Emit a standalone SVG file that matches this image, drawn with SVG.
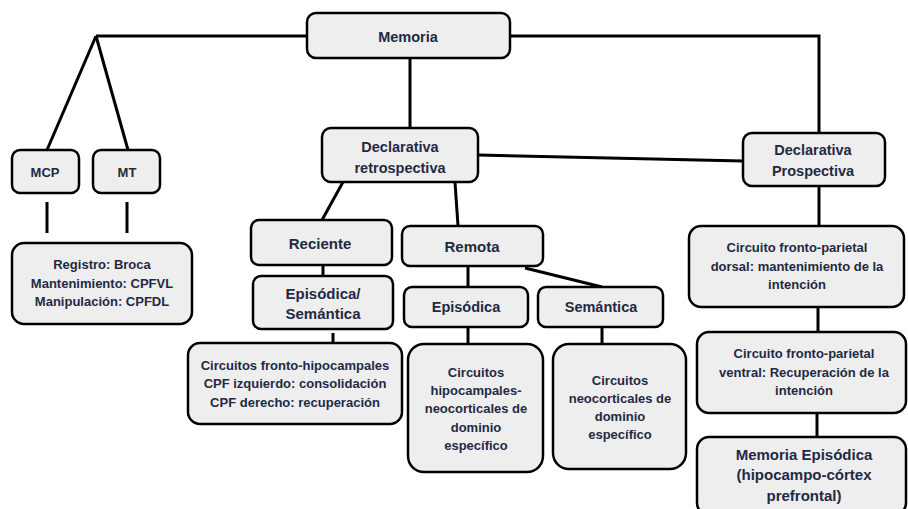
<svg xmlns="http://www.w3.org/2000/svg" width="908" height="509" viewBox="0 0 908 509">
<style>
.n{fill:#eeeeee;stroke:#000;stroke-width:2.5}
.t{font-family:"Liberation Sans",Arial,sans-serif;font-weight:bold;fill:#1f2a44;text-anchor:middle}
.s{font-size:13px}
.m{font-size:14.5px}
.c line,.c polyline{stroke:#000;stroke-width:3;fill:none}
</style>
<rect width="908" height="509" fill="#fff"/>
<g class="c" id="connectors">
<line x1="307" y1="36" x2="96" y2="36"/>
<line x1="96" y1="36" x2="47" y2="150"/>
<line x1="96" y1="36" x2="128" y2="150"/>
<line x1="47" y1="202" x2="47" y2="233"/>
<line x1="127" y1="202" x2="127" y2="233"/>
<line x1="410" y1="58" x2="410" y2="128"/>
<polyline points="510,36 819,36 819,133"/>
<line x1="478" y1="155" x2="743" y2="161"/>
<line x1="819" y1="186" x2="819" y2="226"/>
<line x1="818" y1="307" x2="818" y2="332"/>
<line x1="817" y1="413" x2="817" y2="437"/>
<line x1="343" y1="182" x2="322" y2="220"/>
<line x1="455" y1="182" x2="458" y2="226"/>
<line x1="323" y1="265" x2="323" y2="276"/>
<line x1="333" y1="333" x2="333" y2="343"/>
<line x1="468" y1="266" x2="468" y2="287"/>
<line x1="525" y1="268" x2="602" y2="287"/>
<line x1="468" y1="327" x2="468" y2="344"/>
<line x1="602" y1="327" x2="602" y2="344"/>
</g>
<g id="memoria"><rect class="n" x="307" y="13" width="203" height="45" rx="9"/><text class="t m" x="408" y="42" font-size="15">Memoria</text></g>
<g id="mcp"><rect class="n" x="12" y="150" width="67" height="43" rx="8"/><text class="t s" x="45" y="177">MCP</text></g>
<g id="mt"><rect class="n" x="93" y="150" width="67" height="43" rx="8"/><text class="t s" x="127" y="177">MT</text></g>
<g id="registro"><rect class="n" x="12" y="243" width="180" height="81" rx="12"/>
<text class="t s" x="102" y="269">Registro: Broca</text>
<text class="t s" x="102" y="288">Mantenimiento: CPFVL</text>
<text class="t s" x="102" y="306">Manipulación:  CPFDL</text></g>
<g id="retrospectiva"><rect class="n" x="322" y="128" width="156" height="54" rx="9"/>
<text class="t m" x="400" y="152">Declarativa</text>
<text class="t m" x="400" y="173">retrospectiva</text></g>
<g id="prospectiva"><rect class="n" x="743" y="133" width="142" height="53" rx="9"/>
<text class="t m" x="813" y="155">Declarativa</text>
<text class="t m" x="813" y="176">Prospectiva</text></g>
<g id="dorsal"><rect class="n" x="689" y="226" width="215" height="81" rx="12"/>
<text class="t s" x="797" y="252">Circuito fronto-parietal</text>
<text class="t s" x="797" y="271">dorsal: mantenimiento de la</text>
<text class="t s" x="797" y="289">intención</text></g>
<g id="ventral"><rect class="n" x="697" y="332" width="209" height="81" rx="12"/>
<text class="t s" x="804" y="358">Circuito fronto-parietal</text>
<text class="t s" x="804" y="377">ventral: Recuperación  de la</text>
<text class="t s" x="804" y="395">intención</text></g>
<g id="memepisodica"><rect class="n" x="697" y="437" width="209" height="78" rx="12"/>
<text class="t" font-size="15" x="804" y="460">Memoria Episódica</text>
<text class="t" font-size="15" x="804" y="480">(hipocampo-córtex</text>
<text class="t" font-size="15" x="804" y="501">prefrontal)</text></g>
<g id="reciente"><rect class="n" x="251" y="220" width="141" height="45" rx="8"/><text class="t" font-size="15" x="320" y="249">Reciente</text></g>
<g id="remota"><rect class="n" x="402" y="226" width="141" height="40" rx="8"/><text class="t" font-size="15" x="472" y="252">Remota</text></g>
<g id="epsem"><rect class="n" x="253" y="276" width="140" height="53" rx="8"/>
<text class="t" font-size="15" x="323" y="299">Episódica/</text>
<text class="t" font-size="15" x="323" y="319">Semántica</text></g>
<g id="frontohipo"><rect class="n" x="188" y="343" width="214" height="81" rx="12"/>
<text class="t s" x="295" y="370">Circuitos fronto-hipocampales</text>
<text class="t s" x="295" y="388">CPF izquierdo: consolidación</text>
<text class="t s" x="295" y="407">CPF derecho: recuperación</text></g>
<g id="episodica"><rect class="n" x="404" y="287" width="124" height="40" rx="8"/><text class="t m" x="466" y="312">Episódica</text></g>
<g id="semantica"><rect class="n" x="538" y="287" width="125" height="40" rx="8"/><text class="t m" x="601" y="312">Semántica</text></g>
<g id="hipoc"><rect class="n" x="408" y="344" width="135" height="128" rx="16"/>
<text class="t s" x="476" y="377">Circuitos</text>
<text class="t s" x="476" y="395">hipocampales-</text>
<text class="t s" x="476" y="413">neocorticales  de</text>
<text class="t s" x="476" y="432">dominio</text>
<text class="t s" x="476" y="450">específico</text></g>
<g id="neoc"><rect class="n" x="553" y="344" width="133" height="125" rx="16"/>
<text class="t s" x="620" y="385">Circuitos</text>
<text class="t s" x="620" y="403">neocorticales  de</text>
<text class="t s" x="620" y="421">dominio</text>
<text class="t s" x="620" y="439">específico</text></g>
</svg>
